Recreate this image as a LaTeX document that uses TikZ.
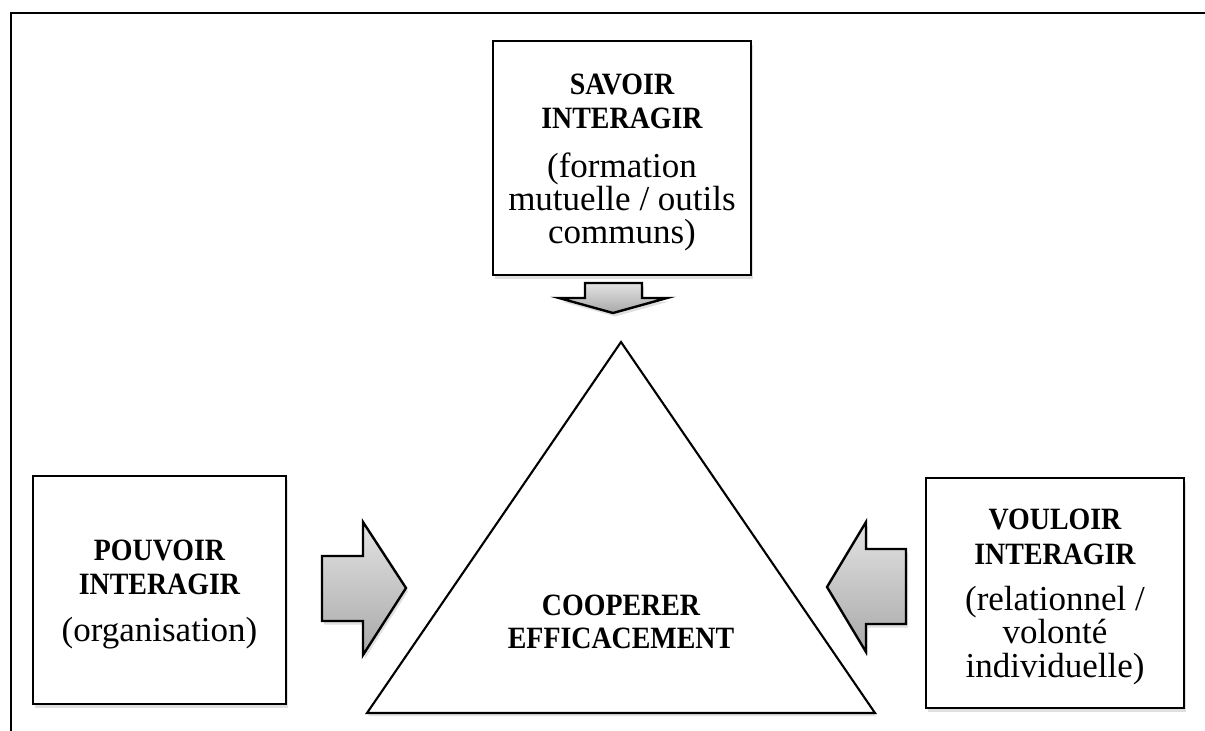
\documentclass[tikz,border=0pt]{standalone}
\usepackage{fontspec}
\setmainfont{Liberation Serif}
\newfontfamily\headfont{Liberation Serif}[FakeStretch=0.9]
\usetikzlibrary{shadows}
\begin{document}
\begin{tikzpicture}[x=1pt,y=-1pt,
  boxst/.style={draw=black, line width=2.4pt, fill=white, inner sep=0pt,
    drop shadow={opacity=0.25, shadow xshift=2pt, shadow yshift=-3.5pt}},
  arrowst/.style={draw=black, line width=2.4pt, line join=miter, top color=gray!22, bottom color=gray!68,
    drop shadow={opacity=0.25, shadow xshift=2pt, shadow yshift=-3.5pt}},
  trist/.style={draw=black, line width=2.1pt, fill=white, line join=miter,
    drop shadow={opacity=0.2, shadow xshift=1pt, shadow yshift=-3pt}},
  headtxt/.style={font=\headfont\bfseries\fontsize{31}{34}\selectfont, anchor=base, inner sep=0pt},
  bodytxt/.style={font=\fontsize{35}{38}\selectfont, anchor=base, inner sep=0pt}]
\useasboundingbox (0,0) rectangle (1205,731);
% frame
\coordinate (ftr) at (1205,12.5);
\coordinate (ftl) at (11,12.5);
\coordinate (fbl) at (11,731);
\draw[line width=2pt] (ftr) -- (ftl) -- (fbl);
% boxes
\node[boxst, minimum width=258pt, minimum height=234pt] (savoir) at (622,158) {};
\node[boxst, minimum width=253pt, minimum height=228pt] (pouvoir) at (159.5,590) {};
\node[boxst, minimum width=258pt, minimum height=230pt] (vouloir) at (1055,593) {};
% triangle
\coordinate (tA) at (621,342);
\coordinate (tL) at (367,713);
\coordinate (tR) at (875,713);
\draw[trist] (tA) -- (tR) -- (tL) -- cycle;
% block arrows
\draw[arrowst] (585,283) -- (642,283) -- (642,298) -- (667,298) -- (613,313) -- (559,298) -- (585,298) -- cycle;
\draw[arrowst] (322,556) -- (363,556) -- (363,522) -- (406,588) -- (363,655) -- (363,621) -- (322,621) -- cycle;
\draw[arrowst] (906,549) -- (866,549) -- (866,522) -- (827,587) -- (866,652) -- (866,624) -- (906,624) -- cycle;
% texts: top box
\node[headtxt] (s1) at (622,94) {SAVOIR};
\node[headtxt] (s2) at (622,128) {INTERAGIR};
\node[bodytxt] (s3) at (622,177) {(formation};
\node[bodytxt] (s4) at (622,210) {mutuelle / outils};
\node[bodytxt] (s5) at (622,243) {communs)};
% left box
\node[headtxt] (p1) at (159.5,560) {POUVOIR};
\node[headtxt] (p2) at (159.5,594) {INTERAGIR};
\node[bodytxt] (p3) at (159.5,641) {(organisation)};
% right box
\node[headtxt] (v1) at (1055,529) {VOULOIR};
\node[headtxt] (v2) at (1055,564) {INTERAGIR};
\node[bodytxt] (v3) at (1055,610) {(relationnel /};
\node[bodytxt] (v4) at (1055,643) {volonté};
\node[bodytxt] (v5) at (1055,677) {individuelle)};
% triangle text
\node[headtxt] (c1) at (621,615) {COOPERER};
\node[headtxt] (c2) at (621,648) {EFFICACEMENT};
\end{tikzpicture}
\end{document}
